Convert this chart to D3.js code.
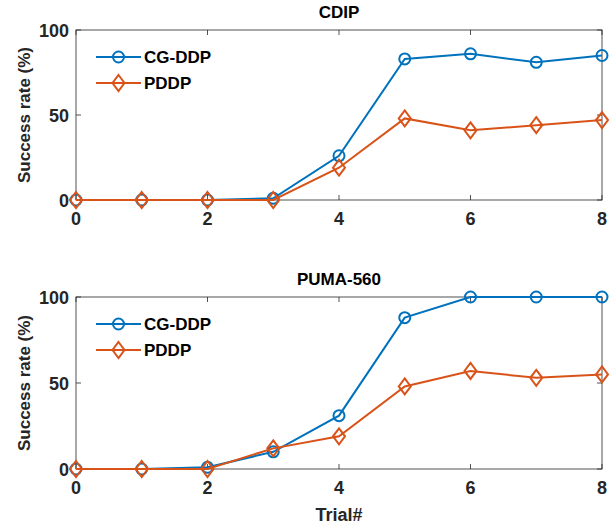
<!DOCTYPE html>
<html>
<head>
<meta charset="utf-8">
<script src="https://cdn.jsdelivr.net/npm/d3@7"></script>
<style>
  body { margin: 0; background: #fff; }
  text { font-family: "Liberation Sans", Arial, sans-serif; font-weight: bold; }
</style>
</head>
<body>
<svg width="610" height="527"></svg>
<script>
const trials = [0, 1, 2, 3, 4, 5, 6, 7, 8];
const seriesNames = ["CG-DDP", "PDDP"];
const colors = ["#0072BD", "#D95319"];

// CDIP panel
const cdipCG = [0, 0, 0, 1, 26, 83, 86, 81, 85];
const cdipPD = [0, 0, 0, 0, 19, 48, 41, 44, 47];
// PUMA-560 panel
const pumaCG = [0, 0, 1, 10, 31, 88, 100, 100, 100];
const pumaPD = [0, 0, 0, 12, 19, 48, 57, 53, 55];

const xTicks = [0, 2, 4, 6, 8];
const yTicks = [0, 50, 100];

const svg = d3.select("svg");

const panels = [
    { title: "CDIP", top: 30, bottom: 200, data: [cdipCG, cdipPD] },
    { title: "PUMA-560", top: 297, bottom: 469, data: [pumaCG, pumaPD] }
];

const left = 76, right = 602;
const x = d3.scaleLinear().domain([0, 8]).range([left, right]);

panels.forEach(function (p, pi) {
    const y = d3.scaleLinear().domain([0, 100]).range([p.bottom, p.top]);
    const g = svg.append("g");

    // box
    g.append("rect")
        .attr("x", left).attr("y", p.top)
        .attr("width", right - left).attr("height", p.bottom - p.top)
        .attr("fill", "none").attr("stroke", "#262626").attr("stroke-width", 0.8);

    // ticks (inside, both sides)
    xTicks.forEach(function (t) {
        g.append("line").attr("x1", x(t)).attr("x2", x(t))
            .attr("y1", p.bottom).attr("y2", p.bottom - 5)
            .attr("stroke", "#262626").attr("stroke-width", 0.8);
        g.append("line").attr("x1", x(t)).attr("x2", x(t))
            .attr("y1", p.top).attr("y2", p.top + 5)
            .attr("stroke", "#262626").attr("stroke-width", 0.8);
        g.append("text").attr("x", x(t)).attr("y", p.bottom + 25)
            .attr("text-anchor", "middle").attr("font-size", 18)
            .attr("fill", "#262626").text(t);
    });
    yTicks.forEach(function (t) {
        g.append("line").attr("x1", left).attr("x2", left + 5)
            .attr("y1", y(t)).attr("y2", y(t))
            .attr("stroke", "#262626").attr("stroke-width", 0.8);
        g.append("line").attr("x1", right).attr("x2", right - 5)
            .attr("y1", y(t)).attr("y2", y(t))
            .attr("stroke", "#262626").attr("stroke-width", 0.8);
        g.append("text").attr("x", left - 7).attr("y", y(t) + 7)
            .attr("text-anchor", "end").attr("font-size", 18)
            .attr("fill", "#262626").text(t);
    });

    // title
    g.append("text").attr("x", (left + right) / 2).attr("y", p.top - 12)
        .attr("text-anchor", "middle").attr("font-size", 17)
        .attr("fill", "#000").text(p.title);

    // y label
    g.append("text")
        .attr("transform", "translate(30," + ((p.top + p.bottom) / 2) + ") rotate(-90)")
        .attr("text-anchor", "middle").attr("font-size", 17)
        .attr("fill", "#262626").text("Success rate (%)");

    const line = d3.line().x((d, i) => x(trials[i])).y(d => y(d));

    p.data.forEach(function (vals, si) {
        g.append("path").datum(vals)
            .attr("d", line).attr("fill", "none")
            .attr("stroke", colors[si]).attr("stroke-width", 2);
        vals.forEach(function (v, i) {
            drawMarker(g, si, x(trials[i]), y(v));
        });
    });

    // legend
    seriesNames.forEach(function (name, si) {
        const ly = p.top + 27 + si * 26;
        g.append("line").attr("x1", 96).attr("x2", 141)
            .attr("y1", ly).attr("y2", ly)
            .attr("stroke", colors[si]).attr("stroke-width", 2);
        drawMarker(g, si, 118.5, ly);
        g.append("text").attr("x", 144).attr("y", ly + 6)
            .attr("font-size", 17).attr("fill", "#000").text(name);
    });
});

function drawMarker(g, si, cx, cy) {
    if (si === 0) {
        g.append("circle").attr("cx", cx).attr("cy", cy).attr("r", 5.5)
            .attr("fill", "none").attr("stroke", colors[0]).attr("stroke-width", 2);
    } else {
        g.append("path")
            .attr("d", "M" + cx + "," + (cy - 8) + "L" + (cx + 6) + "," + cy +
                "L" + cx + "," + (cy + 8) + "L" + (cx - 6) + "," + cy + "Z")
            .attr("fill", "none").attr("stroke", colors[1]).attr("stroke-width", 2);
    }
}

// x label
svg.append("text").attr("x", (left + right) / 2).attr("y", 521)
    .attr("text-anchor", "middle").attr("font-size", 18)
    .attr("fill", "#262626").text("Trial#");
</script>
</body>
</html>
